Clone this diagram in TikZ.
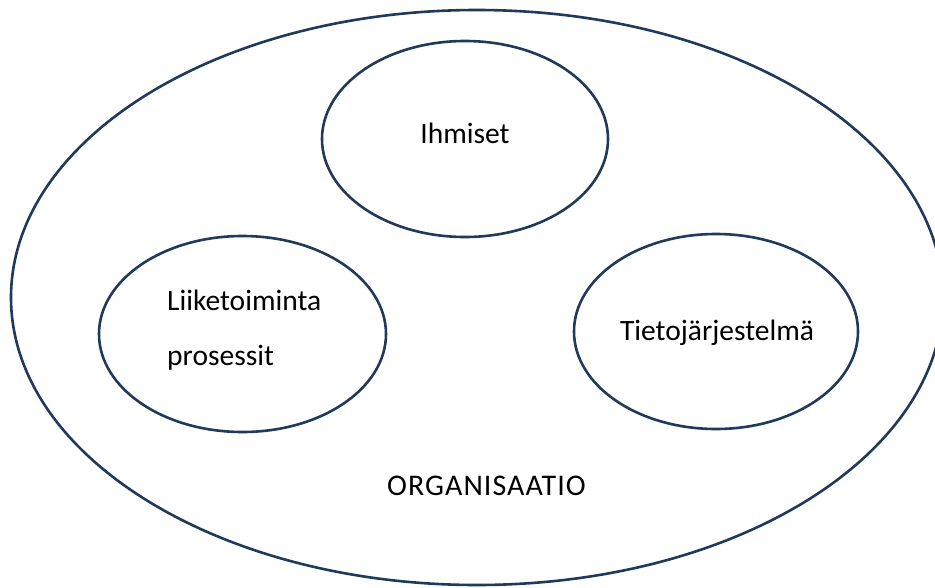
\documentclass[tikz,border=0pt]{standalone}
\usepackage{fontspec}
\setmainfont{Carlito}
\usetikzlibrary{shapes.geometric}
\definecolor{rim}{RGB}{31,58,90}
\tikzset{
  blob/.style={ellipse, draw=rim, line width=2.6pt, inner sep=0pt, fill=none},
  txt/.style={font=\fontsize{29.5}{35}\selectfont, text=black, inner sep=0pt}
}
\begin{document}
\begin{tikzpicture}[x=1pt,y=-1pt]
  \useasboundingbox (0,0) rectangle (935,587);
  \clip (0,0) rectangle (935,587);
  \fill[white] (0,0) rectangle (935,587);
  % outer organisation ellipse
  \node[blob, minimum width=932pt, minimum height=575pt] (org) at (477,297.5) {};
  % three inner parts
  \node[blob, minimum width=286pt, minimum height=196pt] (ihm) at (465,139) {};
  \node[blob, minimum width=287pt, minimum height=196pt] (lii) at (242.5,334) {};
  \node[blob, minimum width=284pt, minimum height=195pt] (tie) at (716,331.5) {};
  % labels
  \node[txt, anchor=base] (ihmt) at (465,143) {Ihmiset};
  \node[txt, anchor=base west] (liit1) at (167,310.5) {Liiketoiminta};
  \node[txt, anchor=base west] (liit2) at (167,365) {prosessit};
  \node[txt, anchor=base] (tiet) at (717,340) {Tietojärjestelmä};
  \node[txt, anchor=base, font=\fontsize{30}{36}\selectfont\addfontfeatures{LetterSpace=3.5}] (orgt) at (486.5,495) {ORGANISAATIO};
\end{tikzpicture}
\end{document}
